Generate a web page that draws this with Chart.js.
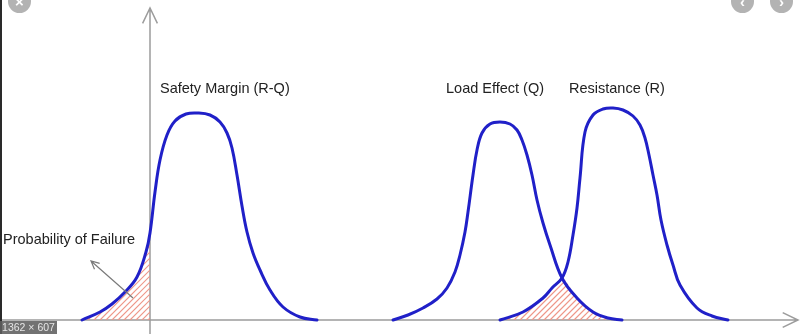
<!DOCTYPE html>
<html>
<head>
<meta charset="utf-8">
<script src="https://cdn.jsdelivr.net/npm/chart.js@4"></script>
<style>
    html, body { margin: 0; padding: 0; background: #fff; }
    #wrap { position: relative; width: 800px; height: 334px; overflow: hidden; }
    #edge { position: absolute; left: 0; top: 0; width: 2px; height: 334px; background: #2a2a2a; }
    .btn { position: absolute; top: -10px; width: 23px; height: 23px; border-radius: 50%; background: #b3b3b3;
           color: #fff; font: bold 15px "Liberation Sans", Arial, sans-serif; line-height: 23px; text-align: center; }
    #size { position: absolute; left: 0; bottom: 0; width: 57px; height: 13px; background: rgba(95, 95, 95, 0.88);
            color: #e6e6e6; font: 10.5px "Liberation Sans", Arial, sans-serif; line-height: 13px; text-align: center; }
</style>
</head>
<body>
<div id="wrap">
    <canvas id="c" width="800" height="334"></canvas>
    <div id="edge"></div>
    <div class="btn" style="left: 8px">×</div>
    <div class="btn" style="left: 731px">‹</div>
    <div class="btn" style="left: 770px">›</div>
    <div id="size">1362 × 607</div>
</div>
<script>
// curve samples: x is the position along the axis (0 = vertical axis), y the density height
const curveNames = ["Safety Margin (R-Q)", "Load Effect (Q)", "Resistance (R)"]

const marginX = [-68, -50, -38, -25, -13, -4, 0, 5, 10, 17, 25, 36, 48, 60, 70, 77, 82, 87, 92, 97, 103, 110, 120, 133, 150, 167]
const marginY = [0, 8, 16, 28, 43, 68, 87, 128, 160, 185, 199, 206, 207, 205, 198, 187, 172, 145, 114, 88, 67, 50, 30, 13, 3, 0]

const loadX = [243, 258, 273, 287, 297, 305, 310, 315, 318, 323, 327, 332, 340, 350, 360, 367, 372, 377, 382, 387, 393, 400, 412, 427, 443, 458, 472]
const loadY = [0, 5, 12, 21, 32, 48, 65, 88, 108, 145, 170, 187, 196, 198, 196, 190, 180, 165, 145, 120, 97, 75, 42, 22, 8, 2, 0]

const resistX = [350, 373, 393, 402, 412, 418, 423, 427, 430, 435, 443, 453, 463, 473, 483, 490, 495, 499, 503, 507, 511, 517, 523, 530, 547, 562, 578]
const resistY = [0, 8, 22, 32, 42, 58, 85, 112, 142, 188, 205, 211, 212, 210, 204, 195, 182, 165, 145, 125, 100, 75, 55, 35, 12, 4, 0]

// where load and resistance curves cross
const crossX = 412

const zip = (xs, ys) => xs.map((x, i) => ({x: x, y: ys[i]}))
let marginPts = zip(marginX, marginY)
let loadPts = zip(loadX, loadY)
let resistPts = zip(resistX, resistY)
let failPts = marginPts.filter(p => p.x <= 0)
let overlapPts = resistPts.filter(p => p.x <= crossX).concat(loadPts.filter(p => p.x > crossX))

const BLUE = "#2020c8"
const HATCH = "rgb(238, 150, 136)"

function curve(label, data) {
    return {
        label: label, data: data, borderColor: BLUE, borderWidth: 3, pointRadius: 0, fill: false,
        tension: 0.4, borderCapStyle: "round", borderJoinStyle: "round", order: 0
    }
}

// outline only used as the hatch boundary
function area(label, data) {
    return {
        label: label, data: data, borderColor: "rgba(0, 0, 0, 0)", borderWidth: 1, showLine: false,
        pointRadius: 0, fill: false, tension: 0.4, order: 1, hatch: true
    }
}

function arrow(ctx, fx, fy, tx, ty, len) {
    let a = Math.atan2(ty - fy, tx - fx)
    ctx.beginPath()
    ctx.moveTo(fx, fy)
    ctx.lineTo(tx, ty)
    ctx.moveTo(tx - len * Math.cos(a - 0.45), ty - len * Math.sin(a - 0.45))
    ctx.lineTo(tx, ty)
    ctx.lineTo(tx - len * Math.cos(a + 0.45), ty - len * Math.sin(a + 0.45))
    ctx.stroke()
}

const hatchFill = {
    id: "hatchFill",
    beforeDatasetsDraw(chart) {
        const {ctx, scales: {y}} = chart
        let y0 = y.getPixelForValue(0)
        chart.data.datasets.forEach((ds, i) => {
            if (!ds.hatch) return
            let line = chart.getDatasetMeta(i).dataset
            let pts = line.points
            ctx.save()
            ctx.beginPath()
            line.path(ctx)
            ctx.lineTo(pts[pts.length - 1].x, y0)
            ctx.lineTo(pts[0].x, y0)
            ctx.closePath()
            ctx.clip()
            ctx.lineWidth = 1.2
            for (let k = -chart.height; k < chart.width; k += 6) {
                ctx.beginPath()
                ctx.strokeStyle = HATCH
                ctx.moveTo(k, chart.height)
                ctx.lineTo(k + chart.height, 0)
                ctx.stroke()
            }
            ctx.restore()
        })
    }
}

// axes with arrow heads plus the text annotations
const decor = {
    id: "decor",
    beforeDatasetsDraw(chart) {
        const {ctx, scales: {x, y}} = chart
        let x0 = x.getPixelForValue(0)
        let y0 = y.getPixelForValue(0)
        ctx.save()
        ctx.strokeStyle = "#9c9c9c"
        ctx.lineWidth = 1.5
        arrow(ctx, 0, y0, 798, y0, 17)
        arrow(ctx, x0, chart.height, x0, 8, 17)
        ctx.restore()
    },
    afterDatasetsDraw(chart) {
        const {ctx} = chart
        ctx.save()
        ctx.fillStyle = "#222"
        ctx.font = '14.5px "Liberation Sans", Arial, sans-serif'
        ctx.textBaseline = "alphabetic"
        ctx.fillText(curveNames[0], 160, 93)
        ctx.fillText(curveNames[1], 446, 93)
        ctx.fillText(curveNames[2], 569, 93)
        ctx.fillText("Probability of Failure", 3, 244)
        ctx.strokeStyle = "#7a7a7a"
        ctx.lineWidth = 1.2
        arrow(ctx, 133, 298, 91, 261, 9)
        ctx.restore()
    }
}

new Chart(document.getElementById("c"), {
    type: "line",
    data: {
        datasets: [
            curve(curveNames[0], marginPts),
            curve(curveNames[1], loadPts),
            curve(curveNames[2], resistPts),
            area("failure", failPts),
            area("overlap", overlapPts),
        ]
    },
    options: {
        animation: false,
        responsive: false,
        layout: {padding: 0},
        plugins: {
            legend: {display: false},
            tooltip: {enabled: false},
        },
        scales: {
            x: {type: "linear", min: -150, max: 650, display: false},
            y: {min: -14, max: 320, display: false},
        },
    },
    plugins: [decor, hatchFill],
})
</script>
</body>
</html>
